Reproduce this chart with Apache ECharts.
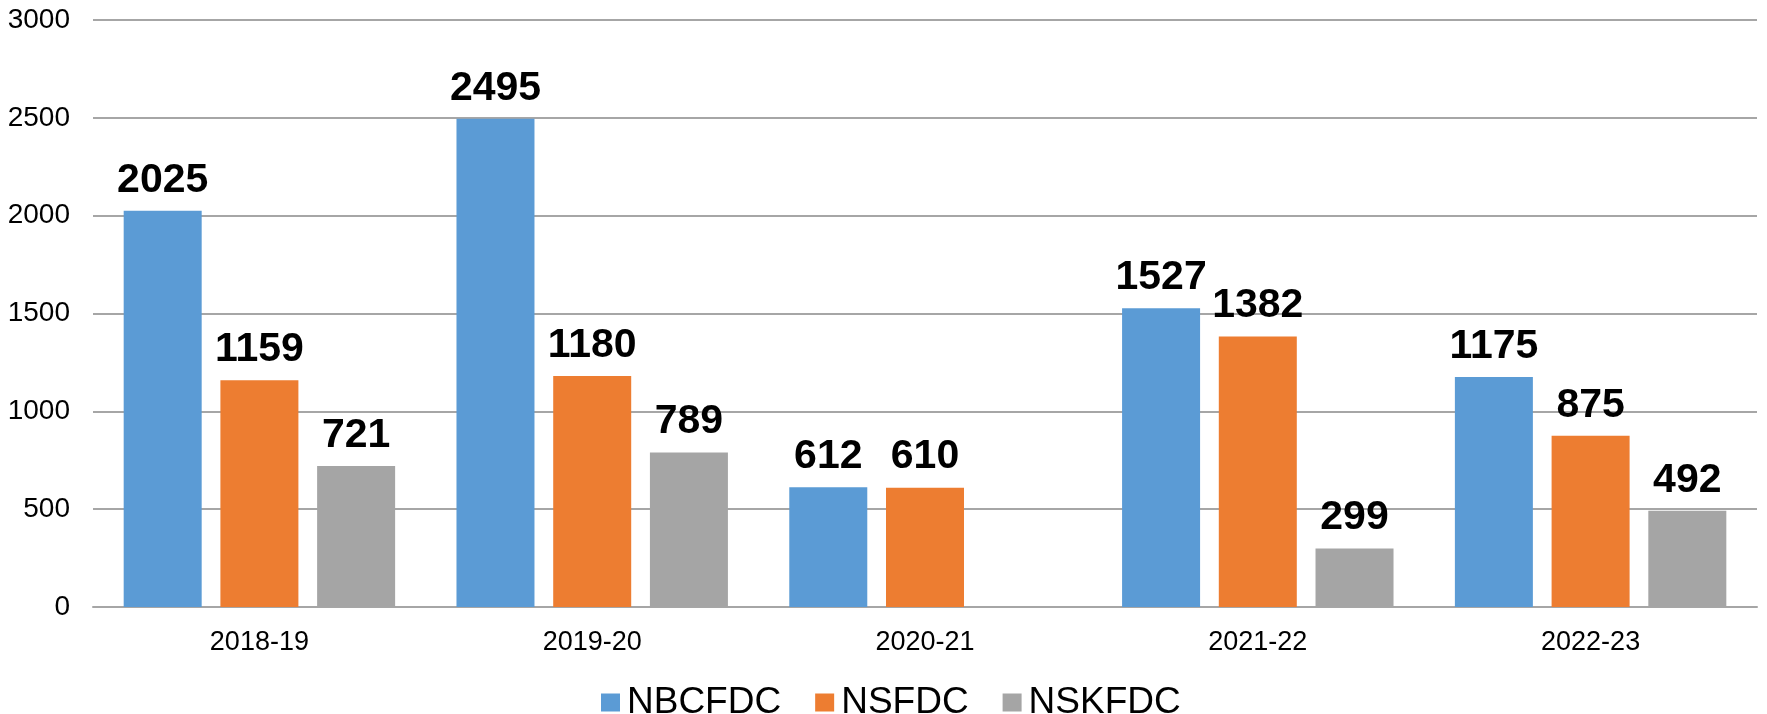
<!DOCTYPE html>
<html>
<head>
<meta charset="utf-8">
<script src="https://cdn.jsdelivr.net/npm/echarts@6/dist/echarts.min.js"></script>
<style>
  html, body { margin: 0; padding: 0; background: #fff; }
  #chart { width: 1767px; height: 714px; }
</style>
</head>
<body>
<div id="chart"></div>
<script>
var years = ['2018-19', '2019-20', '2020-21', '2021-22', '2022-23'];
var nbcfdc = [2025, 2495, 612, 1527, 1175];
var nsfdc = [1159, 1180, 610, 1382, 875];
var nskfdc = [721, 789, null, 299, 492];
var yTicks = [0, 500, 1000, 1500, 2000, 2500, 3000];

var font = 'Liberation Sans, Arial, sans-serif';
var chart = echarts.init(document.getElementById('chart'));

function barSeries(name, data, color) {
	return {
		name: name,
		type: 'bar',
		data: data,
		barWidth: 78,
		barGap: '24%',
		itemStyle: { color: color },
		label: {
			show: true,
			position: 'top',
			distance: 10,
			color: '#000',
			fontFamily: font,
			fontWeight: 'bold',
			fontSize: 41
		}
	};
}

var option = {
	animation: false,
	grid: { left: 93, right: 10, top: 20, bottom: 107 },
	legend: {
		left: 596,
		top: 679,
		itemWidth: 19,
		itemHeight: 18,
		itemGap: 34,
		icon: 'rect',
		textStyle: { fontFamily: font, fontSize: 37, color: '#000', padding: [0, 0, 0, 2] },
		data: ['NBCFDC', 'NSFDC', 'NSKFDC']
	},
	xAxis: {
		type: 'category',
		data: years,
		axisTick: { show: false },
		axisLine: { lineStyle: { color: '#a6a6a6', width: 2 } },
		axisLabel: { color: '#000', fontFamily: font, fontSize: 27, margin: 22 }
	},
	yAxis: {
		type: 'value',
		min: yTicks[0],
		max: yTicks[yTicks.length - 1],
		interval: 500,
		axisLine: { show: false },
		axisTick: { show: false },
		splitLine: { lineStyle: { color: '#a6a6a6', width: 2 } },
		axisLabel: {
			color: '#000', fontFamily: font, fontSize: 28, margin: 23,
			formatter: function (v) { return String(v); }
		}
	},
	series: [
		barSeries('NBCFDC', nbcfdc, '#5b9bd5'),
		barSeries('NSFDC', nsfdc, '#ed7d31'),
		barSeries('NSKFDC', nskfdc, '#a5a5a5')
	]
};
chart.setOption(option);
</script>
</body>
</html>
